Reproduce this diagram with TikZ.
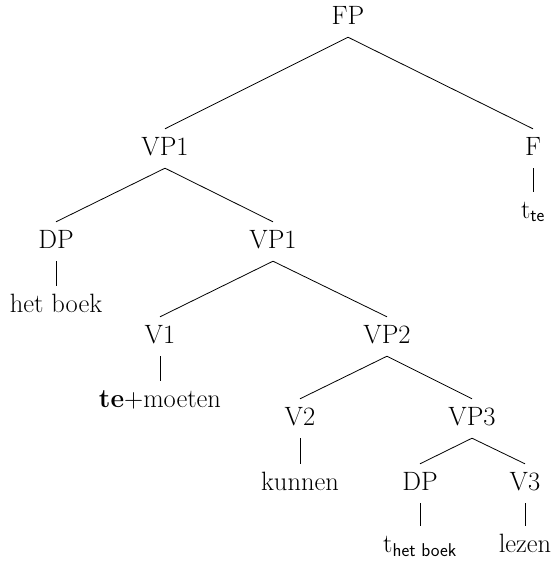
\documentclass[tikz,border=0pt]{standalone}
\usepackage{tikz}
\newcommand{\trsub}[1]{\textsubscript{\sffamily #1}}
\begin{document}
\begin{tikzpicture}
[every node/.style={inner xsep=0pt, inner ysep=8pt, text height=18pt, text depth=5pt, anchor=base, font=\fontsize{26.5}{31}\selectfont},
 branch/.style={line width=0.8pt, color=black}]
\useasboundingbox (0pt,0pt) rectangle (554pt,-563pt);
\node (fp) at (348.0pt, -24.0pt) {FP};
\node (vp1) at (165.0pt, -155.0pt) {VP1};
\node (f) at (533.0pt, -155.0pt) {F};
\node (tte) at (533.0pt, -218.0pt) {t\trsub{te}};
\node (dp) at (56.0pt, -248.0pt) {DP};
\node (vp1b) at (273.0pt, -248.0pt) {VP1};
\node (hetboek) at (56.0pt, -312.0pt) {het boek};
\node (v1) at (160.0pt, -343.0pt) {V1};
\node (vp2) at (387.0pt, -343.0pt) {VP2};
\node (temoeten) at (160.0pt, -407.0pt) {\textbf{te}+moeten};
\node (v2) at (300.0pt, -425.0pt) {V2};
\node (vp3) at (472.0pt, -425.0pt) {VP3};
\node (kunnen) at (300.0pt, -490.0pt) {kunnen};
\node (dp2) at (420.0pt, -490.0pt) {DP};
\node (v3) at (525.0pt, -490.0pt) {V3};
\node (thetboek) at (420.0pt, -552.0pt) {t\trsub{het boek}};
\node (lezen) at (525.0pt, -552.0pt) {lezen};
\draw [branch] (fp.south) -- (vp1.north);
\draw [branch] (fp.south) -- (f.north);
\draw [branch] (f.south) -- (tte.north);
\draw [branch] (vp1.south) -- (dp.north);
\draw [branch] (vp1.south) -- (vp1b.north);
\draw [branch] (dp.south) -- (hetboek.north);
\draw [branch] (vp1b.south) -- (v1.north);
\draw [branch] (vp1b.south) -- (vp2.north);
\draw [branch] (v1.south) -- (temoeten.north);
\draw [branch] (vp2.south) -- (v2.north);
\draw [branch] (vp2.south) -- (vp3.north);
\draw [branch] (v2.south) -- (kunnen.north);
\draw [branch] (vp3.south) -- (dp2.north);
\draw [branch] (vp3.south) -- (v3.north);
\draw [branch] (dp2.south) -- (thetboek.north);
\draw [branch] (v3.south) -- (lezen.north);
\end{tikzpicture}
\end{document}
